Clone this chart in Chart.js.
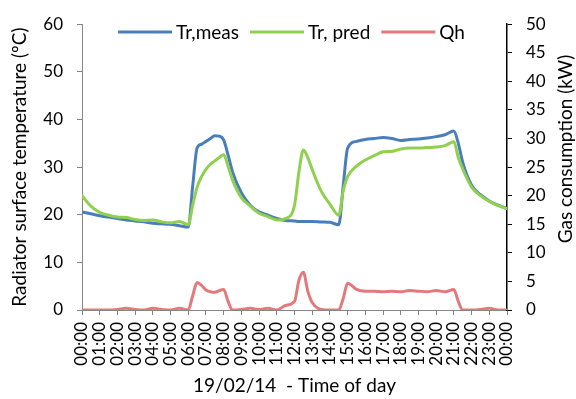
<!DOCTYPE html>
<html>
<head>
<meta charset="utf-8">
<script src="https://cdn.jsdelivr.net/npm/chart.js@4/dist/chart.umd.min.js"></script>
<style>
  html, body { margin: 0; padding: 0; background: #fff; }
  canvas { display: block; }
</style>
</head>
<body>
<canvas id="c" width="576" height="399"></canvas>
<script>
// Time of day in hours (19/02/14)
const hours = [0, 0.5, 1, 1.5, 2, 2.5, 3, 3.5, 4, 4.5, 5, 5.5, 6, 6.25, 6.5, 6.75, 7, 7.25, 7.5, 7.75,
  8, 8.25, 8.5, 9, 9.5, 10, 10.5, 11, 11.5, 12, 12.25, 12.5, 12.75, 13, 13.5, 14, 14.5, 14.75,
  15, 15.5, 16, 16.5, 17, 17.5, 18, 18.5, 19, 19.5, 20, 20.5, 21, 21.25, 21.5, 22, 22.5, 23, 23.5, 24];

// Measured radiator surface temperature (°C)
const trMeas = [20.6, 20.2, 19.8, 19.5, 19.2, 18.9, 18.7, 18.5, 18.2, 18.1, 18.0, 17.7, 17.4, 26.0, 34.0, 34.8,
  35.4, 36.0, 36.6, 36.5, 35.7, 32.5, 29.0, 24.6, 22.0, 20.6, 19.9, 19.2, 18.8, 18.7, 18.6, 18.6, 18.6,
  18.6, 18.5, 18.4, 17.9, 26.0, 34.0, 35.4, 35.8, 36.0, 36.2, 36.0, 35.6, 35.8, 35.9, 36.1, 36.4, 36.8,
  37.6, 35.0, 31.0, 26.2, 24.2, 22.9, 22.0, 21.3];

// Predicted radiator surface temperature (°C)
const trPred = [24.0, 21.8, 20.5, 19.9, 19.5, 19.4, 19.0, 18.8, 18.9, 18.5, 18.3, 18.6, 17.9, 22.0, 25.8, 28.0,
  29.5, 30.6, 31.3, 32.0, 32.6, 30.2, 27.3, 23.6, 21.8, 20.3, 19.6, 18.9, 19.2, 22.0, 29.0, 33.6, 32.0,
  29.5, 25.0, 22.2, 19.9, 25.0, 28.0, 30.2, 31.5, 32.4, 33.2, 33.3, 33.8, 34.0, 34.0, 34.1, 34.2, 34.5,
  35.3, 32.0, 29.6, 25.8, 24.0, 22.8, 21.9, 21.3];

// Gas consumption (kW)
const qh = [0, 0, 0, 0, 0.1, 0.3, 0.1, 0, 0.3, 0.1, 0, 0.3, 0, 2.5, 4.8, 4.3,
  3.5, 3.2, 3.1, 3.4, 3.6, 1.5, 0, 0.1, 0.3, 0.1, 0.3, 0, 0.8, 1.5, 5.2, 6.6, 3.3,
  1.3, 0.1, 0, 0, 2.0, 4.7, 3.6, 3.3, 3.3, 3.2, 3.3, 3.2, 3.4, 3.3, 3.2, 3.4, 3.2,
  3.6, 1.5, 0, 0, 0.1, 0.3, 0, 0];

const seriesNames = ['Tr,meas', 'Tr, pred', 'Qh'];
const seriesColors = ['#4a7ebb', '#8fd14f', '#e4797b'];

const FONT = 'Lato';
const TITLE_SIZE = 19;
const toPoints = (ys) => hours.map((h, i) => ({ x: h, y: ys[i] }));
const pad2 = (n) => (n < 10 ? '0' : '') + n;

// Legend drawn inside the plot area, along its top edge
const innerLegend = {
  id: 'innerLegend',
  afterDatasetsDraw(chart) {
    const { ctx, chartArea } = chart;
    const lineLen = 54, gap = 4, spacing = 11, y = 32;
    ctx.save();
    ctx.font = '19px ' + FONT;
    ctx.textBaseline = 'middle';
    const items = chart.data.datasets.map(d => ({
      text: d.label, color: d.borderColor, w: ctx.measureText(d.label).width
    }));
    const total = items.reduce((s, it) => s + lineLen + gap + it.w, 0) + spacing * (items.length - 1);
    let x = (chartArea.left + chartArea.right) / 2 - 3 - total / 2;
    items.forEach(it => {
      ctx.strokeStyle = it.color;
      ctx.lineWidth = 3;
      ctx.beginPath();
      ctx.moveTo(x, y);
      ctx.lineTo(x + lineLen, y);
      ctx.stroke();
      x += lineLen + gap;
      ctx.fillStyle = '#000';
      ctx.fillText(it.text, x, y + 1);
      x += it.w + spacing;
    });
    ctx.restore();
  }
};

// Right-hand axis title, reading bottom to top
const rightTitle = {
  id: 'rightTitle',
  afterDraw(chart) {
    const { ctx } = chart;
    ctx.save();
    ctx.font = TITLE_SIZE + 'px ' + FONT;
    ctx.fillStyle = '#000';
    ctx.textAlign = 'center';
    ctx.textBaseline = 'middle';
    ctx.translate(566, 149);
    ctx.rotate(-Math.PI / 2);
    ctx.fillText('Gas consumption (kW)', 0, 0);
    ctx.restore();
  }
};

function draw() {
  Chart.defaults.font.family = FONT;
  Chart.defaults.font.size = 17;
  Chart.defaults.color = '#000';

  new Chart(document.getElementById('c'), {
    type: 'line',
    data: {
      datasets: [
        { label: seriesNames[0], data: toPoints(trMeas), borderColor: seriesColors[0], yAxisID: 'y', order: 2 },
        { label: seriesNames[1], data: toPoints(trPred), borderColor: seriesColors[1], yAxisID: 'y', order: 1 },
        { label: seriesNames[2], data: toPoints(qh), borderColor: seriesColors[2], yAxisID: 'y1', order: 0 }
      ]
    },
    options: {
      responsive: false,
      animation: false,
      devicePixelRatio: 1,
      layout: { padding: { top: 19, left: 0, right: 0, bottom: 0 } },
      elements: {
        point: { radius: 0 },
        line: { borderWidth: 3, fill: false, cubicInterpolationMode: 'monotone', borderCapStyle: 'round', borderJoinStyle: 'round' }
      },
      plugins: { legend: { display: false }, tooltip: { enabled: false } },
      scales: {
        x: {
          type: 'linear', min: 0, max: 24,
          afterFit: (s) => { s.height = 89; },
          afterBuildTicks: (s) => { s.ticks = hours.filter(h => Number.isInteger(h)).map(v => ({ value: v })); },
          ticks: {
            autoSkip: false, maxRotation: 90, minRotation: 90, padding: 7,
            callback: (v) => pad2(v % 24) + ':00'
          },
          grid: { drawOnChartArea: false, drawTicks: true, tickLength: 5, color: '#868686' },
          border: { color: '#868686', width: 1 },
          title: { display: true, text: '19/02/14  - Time of day', font: { size: TITLE_SIZE }, padding: { top: 0, bottom: 2 } }
        },
        y: {
          position: 'left', min: 0, max: 60,
          afterFit: (s) => { s.width = 82; },
          ticks: { stepSize: 10, padding: 14 },
          grid: { drawOnChartArea: false, drawTicks: true, tickLength: 5, color: '#868686' },
          border: { color: '#868686', width: 1 },
          title: { display: true, text: 'Radiator surface temperature (ºC)', font: { size: TITLE_SIZE }, padding: { top: 8, bottom: 0 } }
        },
        y1: {
          position: 'right', min: 0, max: 50,
          afterFit: (s) => { s.width = 69; },
          ticks: { stepSize: 5, padding: 14 },
          grid: { drawOnChartArea: false, drawTicks: true, tickLength: 5, color: '#000' },
          border: { color: '#000', width: 1.5 }
        }
      }
    },
    plugins: [innerLegend, rightTitle]
  });
}

if (document.fonts && document.fonts.load) {
  document.fonts.load('17px ' + FONT).then(draw, draw);
} else {
  draw();
}
</script>
</body>
</html>
